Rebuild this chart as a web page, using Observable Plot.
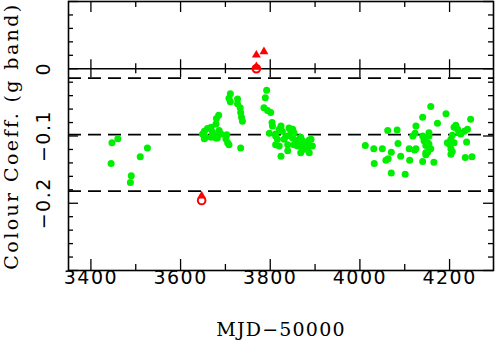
<!DOCTYPE html>
<html><head><meta charset="utf-8">
<script src="https://cdn.jsdelivr.net/npm/d3@7"></script>
<script src="https://cdn.jsdelivr.net/npm/@observablehq/plot@0.6"></script>
<style>body{margin:0;background:#fff}</style>
</head><body><div id="chart"></div>
<script>
const greenMJD = [
 3447,3460,3445,3510,3526,3490,3488,
 3711,3708,3711,3727,3727,3733,3734,3736,3738,3685,3680,3679,3668,3660,3653,3649,3671,3675,3679,3668,3656,3653,3686,3690,3682,3703,3701,3705,3708,3734,
 3792,3789,3786,3794,3801,3804,3805,3798,3824,3820,3827,3842,3846,3850,3812,3816,3812,3820,3835,3839,3831,3850,3857,3864,3868,3861,3853,3872,3879,3887,3894,3883,3872,3868,3887,3839,3824,3887,3876,3812,3853,3846,3868,3891,
 4012,4031,4050,4062,4083,4085,4070,4063,4058,4091,4032,4070,4101,4110,4111,4122,4118,4125,4123,4140,4140,4143,4140,4147,4158,4173,4192,4247,4240,4233,4214,4210,4218,4221,4225,4206,4203,4199,4195,4203,4206,4203,4238,4235,4250,4154,4154,4151,4154,4147,4158,4151,4147,4165,4125,4210,4199,4145
];
const greenCoef = [
 -0.110,-0.104,-0.141,-0.131,-0.118,-0.159,-0.169,
 -0.037,-0.044,-0.049,-0.045,-0.052,-0.058,-0.065,-0.072,-0.078,-0.069,-0.074,-0.082,-0.087,-0.089,-0.093,-0.097,-0.094,-0.099,-0.103,-0.102,-0.102,-0.104,-0.092,-0.097,-0.103,-0.098,-0.104,-0.110,-0.113,-0.118,
 -0.032,-0.043,-0.058,-0.062,-0.065,-0.080,-0.085,-0.096,-0.085,-0.090,-0.093,-0.088,-0.093,-0.090,-0.100,-0.105,-0.113,-0.115,-0.100,-0.113,-0.105,-0.103,-0.107,-0.105,-0.113,-0.115,-0.113,-0.107,-0.113,-0.115,-0.115,-0.120,-0.120,-0.125,-0.125,-0.122,-0.130,-0.106,-0.119,-0.097,-0.095,-0.100,-0.102,-0.105,
 -0.114,-0.119,-0.119,-0.092,-0.091,-0.111,-0.124,-0.134,-0.136,-0.130,-0.141,-0.155,-0.157,-0.119,-0.136,-0.121,-0.100,-0.085,-0.096,-0.072,-0.100,-0.107,-0.138,-0.125,-0.056,-0.081,-0.067,-0.075,-0.090,-0.093,-0.084,-0.087,-0.090,-0.095,-0.097,-0.099,-0.105,-0.110,-0.110,-0.119,-0.123,-0.127,-0.109,-0.132,-0.131,-0.095,-0.100,-0.110,-0.112,-0.114,-0.119,-0.124,-0.128,-0.139,-0.119,-0.110,-0.112,-0.103
];
const redTriMJD = [3769, 3786, 3769, 3647];
const redTriCoef = [0.0204, 0.0253, 0.003, -0.189];
const redCircMJD = [3769, 3647];
const redCircCoef = [0, -0.196];
const refLines = [-0.014, -0.098, -0.182];
const xMajor = [3400, 3600, 3800, 4000, 4200];
const xMinor = [3500, 3700, 3900, 4100];
const yLabels = [0, -0.1, -0.2];
const yLabelText = ["0", "\u22120.1", "\u22120.2"];
const yMajor = [-0.3, -0.2, -0.1, 0, 0.1];
const yMinor = [-0.28,-0.26,-0.24,-0.22,-0.18,-0.16,-0.14,-0.12,-0.08,-0.06,-0.04,-0.02,0.02,0.04,0.06,0.08];
const xTitle = "MJD\u221250000";
const yTitle = "Colour Coeff. (g band)";

const green = greenMJD.map((m, i) => ({mjd: m, c: greenCoef[i]}));
const redTri = redTriMJD.map((m, i) => ({mjd: m, c: redTriCoef[i]}));
const redCirc = redCircMJD.map((m, i) => ({mjd: m, c: redCircCoef[i]}));

const W = 495, H = 344, mL = 68, mR = 2, mT = 1, mB = 74;
const fw = W - mL - mR, fh = H - mT - mB;
const labFont = "DejaVu Sans", titleFont = "DejaVu Serif";

const chart = Plot.plot({
  width: W, height: H,
  marginLeft: mL, marginRight: mR, marginTop: mT, marginBottom: mB,
  x: {domain: [3350, 4298], axis: null},
  y: {domain: [-0.3, 0.1], axis: null},
  style: {background: "#fff"},
  marks: [
    Plot.ruleY(refLines, {y: d => d, stroke: "#000", strokeWidth: 1.8, strokeDasharray: "13,7"}),
    Plot.ruleY([0], {stroke: "#000", strokeWidth: 1.5}),
    // x ticks bottom/top
    Plot.ruleX(xMajor, {x: d => d, insetTop: fh - 11, strokeWidth: 1.3}),
    Plot.ruleX(xMajor, {x: d => d, insetBottom: fh - 11, strokeWidth: 1.3}),
    Plot.ruleX(xMinor, {x: d => d, insetTop: fh - 6, strokeWidth: 1.3}),
    Plot.ruleX(xMinor, {x: d => d, insetBottom: fh - 6, strokeWidth: 1.3}),
    // x ticks at the separator
    Plot.ruleX(xMajor, {x: d => d, y1: 0, y2: 0, insetTop: -9, insetBottom: -9, strokeWidth: 1.3}),
    Plot.ruleX(xMinor, {x: d => d, y1: 0, y2: 0, insetTop: -5, insetBottom: -5, strokeWidth: 1.3}),
    // y ticks left/right
    Plot.ruleY(yMajor, {y: d => d, insetRight: fw - 10, strokeWidth: 1.3}),
    Plot.ruleY(yMajor, {y: d => d, insetLeft: fw - 10, strokeWidth: 1.3}),
    Plot.ruleY(yMinor, {y: d => d, insetRight: fw - 5, strokeWidth: 1.3}),
    Plot.ruleY(yMinor, {y: d => d, insetLeft: fw - 5, strokeWidth: 1.3}),
    Plot.frame({stroke: "#000", strokeWidth: 1.6}),
    Plot.dot(green, {x: "mjd", y: "c", r: 3.5, fill: "#00ee00", stroke: "none"}),
    Plot.dot(redCirc, {x: "mjd", y: "c", r: 3.8, fill: "none", stroke: "#ff0000", strokeWidth: 2}),
    Plot.dot(redTri, {x: "mjd", y: "c", r: 3.3, symbol: "triangle", fill: "#ff0000", stroke: "none"}),
    // tick labels
    Plot.text(xMajor, {x: d => d, frameAnchor: "bottom", dy: 13, text: d => String(d),
      fontSize: 19, fontFamily: labFont, fill: "#000", textAnchor: "middle"}),
    Plot.text(yLabels, {y: d => d, frameAnchor: "left", dx: -24.5, rotate: -90, textAnchor: "middle",
      text: (d, i) => yLabelText[i], fontSize: 19, fontFamily: labFont, fill: "#000"}),
    Plot.text([xTitle], {frameAnchor: "bottom", dy: 65, text: d => d, textAnchor: "middle",
      fontSize: 19, fontFamily: titleFont, fill: "#000"}),
    Plot.text([yTitle], {frameAnchor: "left", dx: -57, rotate: -90, text: d => d, textAnchor: "middle",
      fontSize: 19, fontFamily: titleFont, fill: "#000"})
  ]
});
// widen glyph spacing to mimic the reference's wide plotting font
const texts = chart.querySelectorAll("text");
texts.forEach(t => {
  const s = t.textContent;
  if (s === xTitle) t.setAttribute("letter-spacing", "1.2");
  else if (s === yTitle) t.setAttribute("letter-spacing", "2.4");
  else t.setAttribute("letter-spacing", "1.5");
});
document.getElementById("chart").appendChild(chart);
</script>
</body></html>
